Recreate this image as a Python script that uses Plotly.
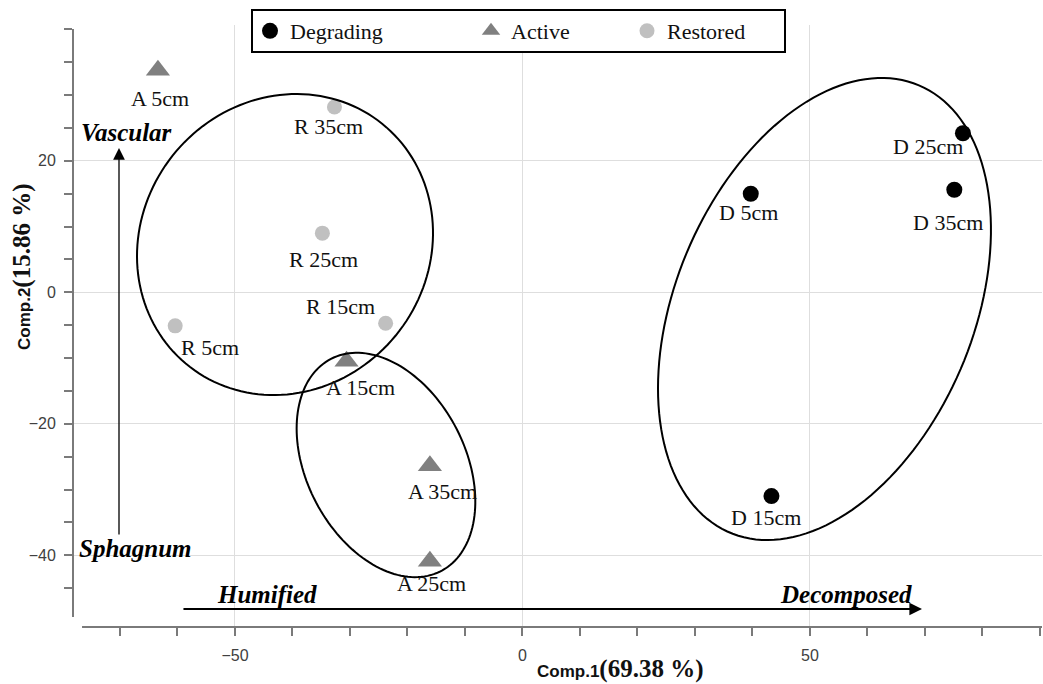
import numpy as np
import plotly.graph_objects as go

# ---- PCA scores (Comp.1, Comp.2) by site and depth ----
degrading_labels = ["D 5cm", "D 15cm", "D 25cm", "D 35cm"]
degrading_x = [39.7, 43.3, 76.6, 75.1]
degrading_y = [15.0, -31.0, 24.2, 15.6]

active_labels = ["A 5cm", "A 15cm", "A 25cm", "A 35cm"]
active_x = [-63.4, -30.6, -16.1, -16.1]
active_y = [33.8, -10.5, -40.9, -26.4]

restored_labels = ["R 5cm", "R 15cm", "R 25cm", "R 35cm"]
restored_x = [-60.4, -23.8, -34.8, -32.7]
restored_y = [-5.1, -4.7, 9.0, 28.2]

x_major_ticks = [-50, 0, 50]
x_minor_ticks = list(range(-70, 91, 10))
y_major_ticks = [-40, -20, 0, 20]
y_minor_ticks = list(range(-45, 41, 5))

# ---- layout geometry ----
W, H = 1043, 684
M_L, M_R, M_T, M_B = 73, 1, 25, 57
X_RANGE = [-78.17, 90.35]
Y_RANGE = [-50.92, 40.67]
PX_X = (W - M_L - M_R) / (X_RANGE[1] - X_RANGE[0])
PX_Y = (H - M_T - M_B) / (Y_RANGE[1] - Y_RANGE[0])

SERIF = "Liberation Serif, Times New Roman, serif"
SANS = "Liberation Sans, Arial, sans-serif"

# label offsets in screen pixels (dx right, dy down), same order as data
deg_offsets = [(-2, 19), (-5, 21), (-35, 13), (-6, 33)]
act_offsets = [(2, 28), (14, 26), (2, 22), (13, 26)]
res_offsets = [(35, 22), (-45, -17), (1, 26), (-6, 20)]

fig = go.Figure()

fig.add_trace(go.Scatter(
    x=degrading_x, y=degrading_y, mode="markers", name="Degrading",
    marker=dict(symbol="circle", size=16, color="#000000"),
    legend="legend", hoverinfo="text", text=degrading_labels,
))
fig.add_trace(go.Scatter(
    x=active_x, y=active_y, mode="markers", name="Active",
    marker=dict(symbol="triangle-up", size=21, color="#808080"),
    legend="legend2", hoverinfo="text", text=active_labels,
))
fig.add_trace(go.Scatter(
    x=restored_x, y=restored_y, mode="markers", name="Restored",
    marker=dict(symbol="circle", size=15, color="#c0c0c0"),
    legend="legend3", hoverinfo="text", text=restored_labels,
))

annotations = []
for labels, xs, ys, offs in [
    (degrading_labels, degrading_x, degrading_y, deg_offsets),
    (active_labels, active_x, active_y, act_offsets),
    (restored_labels, restored_x, restored_y, res_offsets),
]:
    for lab, xv, yv, (dx, dy) in zip(labels, xs, ys, offs):
        annotations.append(dict(
            x=xv, y=yv, xref="x", yref="y", text=lab, showarrow=False,
            xshift=dx, yshift=-dy, font=dict(family=SERIF, size=22, color="#111"),
        ))


def ellipse_path(cx, cy, a_px, b_px, angle_deg, n=160):
    t = np.linspace(0, 2 * np.pi, n)
    th = np.radians(angle_deg)
    ex = a_px * np.cos(t) * np.cos(th) - b_px * np.sin(t) * np.sin(th)
    ey = a_px * np.cos(t) * np.sin(th) + b_px * np.sin(t) * np.cos(th)
    xs = cx + ex / PX_X
    ys = cy + ey / PX_Y
    pts = [f"{x:.3f},{y:.3f}" for x, y in zip(xs, ys)]
    return "M " + " L ".join(pts) + " Z"


# group ellipses: centre (data), semi-axes (px), tilt (deg)
ellipses = [
    (52.52, -2.54, 242.8, 148.8, 67.1),
    (-23.74, -26.27, 119.5, 79.3, 117.4),
    (-41.30, 7.27, 155.0, 143.3, 51.2),
]

shapes = []
for cx, cy, a, b, ang in ellipses:
    shapes.append(dict(type="path", xref="x", yref="y", path=ellipse_path(cx, cy, a, b, ang),
                       line=dict(color="#000", width=2), layer="above"))

# detached axis lines
AXIS_COLOR = "#7a7a7a"
shapes.append(dict(type="line", xref="paper", yref="y", x0=0, x1=0, y0=-49.4, y1=40.06,
                   line=dict(color=AXIS_COLOR, width=2), layer="above"))
shapes.append(dict(type="line", xref="x", yref="paper", x0=-76.6, x1=X_RANGE[1], y0=0, y1=0,
                   line=dict(color=AXIS_COLOR, width=2), layer="above"))


def px2paper_x(px):
    return (px - M_L) / (W - M_L - M_R)


def px2paper_y(py):
    return (H - M_B - py) / (H - M_T - M_B)


# legend frame
shapes.append(dict(type="rect", xref="paper", yref="paper",
                   x0=px2paper_x(252), x1=px2paper_x(785), y0=px2paper_y(52), y1=px2paper_y(10),
                   line=dict(color="#000", width=2), fillcolor="white", layer="above"))

# direction arrows
annotations.append(dict(x=-70.17, y=21.95, ax=-70.17, ay=-37.08, xref="x", yref="y",
                        axref="x", ayref="y", text="", showarrow=True, arrowhead=2,
                        arrowsize=1.8, arrowwidth=1.3, arrowcolor="#000", standoff=0))
annotations.append(dict(x=69.48, y=-48.18, ax=-59.22, ay=-48.18, xref="x", yref="y",
                        axref="x", ayref="y", text="", showarrow=True, arrowhead=2,
                        arrowsize=1.4, arrowwidth=1.8, arrowcolor="#000", standoff=0))

for txt, xv, yv in [("Vascular", -68.87, 24.24), ("Sphagnum", -67.22, -38.92),
                    ("Humified", -44.43, -45.9), ("Decomposed", 56.26, -45.9)]:
    annotations.append(dict(x=xv, y=yv, xref="x", yref="y", text=f"<b><i>{txt}</i></b>",
                            showarrow=False, font=dict(family=SERIF, size=25, color="#000")))

# axis titles
annotations.append(dict(
    x=px2paper_x(620), y=px2paper_y(669), xref="paper", yref="paper", showarrow=False,
    xanchor="center", yanchor="middle",
    text=("<b>Comp.1</b><span style='font-family:Liberation Serif, Times New Roman, serif;"
          "font-size:25px'><b>(69.38 %)</b></span>"),
    font=dict(family=SANS, size=17, color="#111"),
))
annotations.append(dict(
    x=px2paper_x(22), y=px2paper_y(267), xref="paper", yref="paper", showarrow=False,
    xanchor="center", yanchor="middle", textangle=-90,
    text=("<b>Comp.2</b><span style='font-family:Liberation Serif, Times New Roman, serif;"
          "font-size:25px'><b>(15.86 %)</b></span>"),
    font=dict(family=SANS, size=17, color="#111"),
))

legend_common = dict(orientation="h", bgcolor="rgba(0,0,0,0)", borderwidth=0,
                     font=dict(family=SERIF, size=22, color="#111"),
                     yanchor="middle", y=px2paper_y(31), xanchor="left")

fig.update_layout(
    width=W, height=H,
    margin=dict(l=M_L, r=M_R, t=M_T, b=M_B),
    paper_bgcolor="white", plot_bgcolor="white",
    showlegend=True,
    legend=dict(x=px2paper_x(250), **legend_common),
    legend2=dict(x=px2paper_x(471), **legend_common),
    legend3=dict(x=px2paper_x(627), **legend_common),
    shapes=shapes,
    annotations=annotations,
    xaxis=dict(
        range=X_RANGE, showline=False, zeroline=False,
        showgrid=True, gridcolor="#dedede", gridwidth=1,
        tickmode="array", tickvals=x_major_ticks,
        ticks="outside", ticklen=8, tickwidth=2, tickcolor=AXIS_COLOR,
        tickfont=dict(family=SANS, size=16, color="#404040"),
        ticklabelstandoff=6,
        minor=dict(tickmode="array", tickvals=x_minor_ticks, ticks="outside",
                   ticklen=8, tickwidth=2, tickcolor=AXIS_COLOR, showgrid=False),
        fixedrange=True,
    ),
    yaxis=dict(
        range=Y_RANGE, showline=False, zeroline=False,
        showgrid=True, gridcolor="#dedede", gridwidth=1,
        tickmode="array", tickvals=y_major_ticks,
        ticks="outside", ticklen=8, tickwidth=2, tickcolor=AXIS_COLOR,
        tickfont=dict(family=SANS, size=16, color="#404040"),
        ticklabelstandoff=5,
        minor=dict(tickmode="array", tickvals=y_minor_ticks, ticks="outside",
                   ticklen=8, tickwidth=2, tickcolor=AXIS_COLOR, showgrid=False),
        fixedrange=True,
    ),
)

fig.write_html("out.html")
